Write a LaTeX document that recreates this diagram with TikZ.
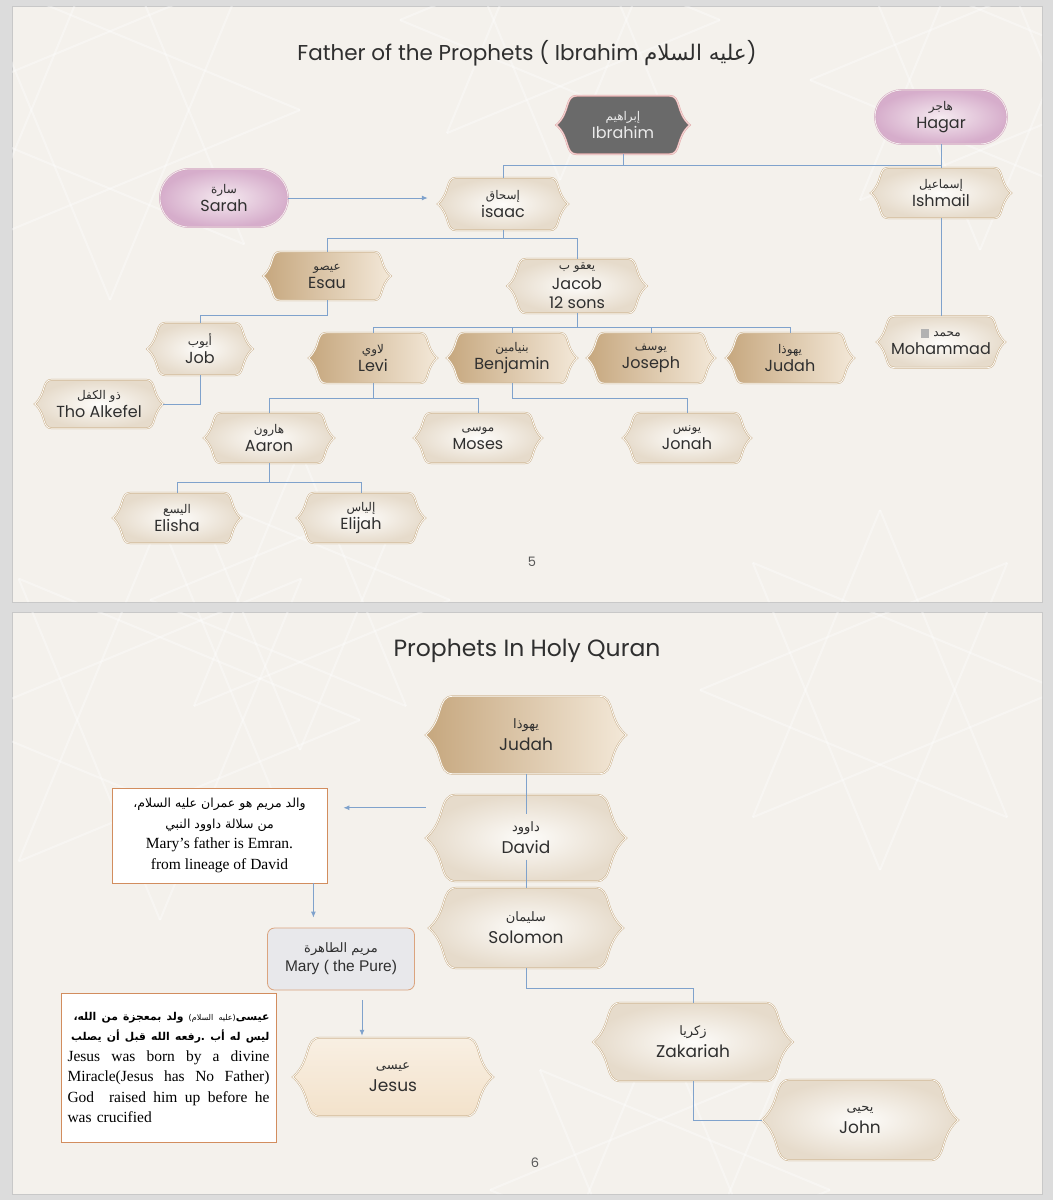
\documentclass[tikz,border=0pt]{standalone}
\usepackage{fontspec}
\usetikzlibrary{calc,arrows.meta,shapes.misc}
\setmainfont{Poppins}
\newfontfamily\arabicfont[Script=Arabic]{DejaVu Sans}
\newfontfamily\timesfont{Liberation Serif}
\newfontfamily\arialfont{Liberation Sans}
\TeXXeTstate=1

\definecolor{pagegray}{HTML}{DCDCDC}
\definecolor{framegray}{HTML}{C8C8C8}
\definecolor{slidebg}{HTML}{F4F1EC}
\definecolor{linkblue}{HTML}{7FA2CC}
\definecolor{goldline}{HTML}{CBB08A}
\definecolor{creamhi}{HTML}{FDFCFA}
\definecolor{creamlo}{HTML}{E6DBCB}
\definecolor{tanhi}{HTML}{F3E8D8}
\definecolor{tanlo}{HTML}{C6A77E}
\definecolor{pinkhi}{HTML}{F5EAF0}
\definecolor{pinklo}{HTML}{D6ADCB}
\definecolor{pinkline}{HTML}{D2A9BF}
\definecolor{slate}{HTML}{6A6A6A}
\definecolor{rose}{HTML}{E2A3A3}
\definecolor{peach}{HTML}{F3E2CB}
\definecolor{marygray}{HTML}{E8E8EB}
\definecolor{copper}{HTML}{D28D5E}
\definecolor{inktext}{HTML}{2F2F2F}

% plaque: flat top and bottom, pointed ends with curled corners
\makeatletter
\pgfdeclareshape{plaque}{%
  \inheritsavedanchors[from=rectangle]%
  \inheritanchorborder[from=rectangle]%
  \inheritanchor[from=rectangle]{center}%
  \inheritanchor[from=rectangle]{north}%
  \inheritanchor[from=rectangle]{south}%
  \inheritanchor[from=rectangle]{east}%
  \inheritanchor[from=rectangle]{west}%
  \inheritanchor[from=rectangle]{north east}%
  \inheritanchor[from=rectangle]{north west}%
  \inheritanchor[from=rectangle]{south east}%
  \inheritanchor[from=rectangle]{south west}%
  \backgroundpath{%
    \southwest \pgf@xa=\pgf@x \pgf@ya=\pgf@y
    \northeast \pgf@xb=\pgf@x \pgf@yb=\pgf@y
    \pgf@xc=\pgf@yb \advance\pgf@xc by -\pgf@ya
    \pgf@yc=.5\pgf@ya \advance\pgf@yc by .5\pgf@yb
    \edef\pqL{\the\pgf@xa}\edef\pqR{\the\pgf@xb}%
    \edef\pqB{\the\pgf@ya}\edef\pqT{\the\pgf@yb}\edef\pqM{\the\pgf@yc}%
    \pgf@xc=.35\pgf@xc \edef\pqC{\the\pgf@xc}%
    \pgf@xc=.6\pgf@xc \edef\pqD{\the\pgf@xc}%
    \pgfpathmoveto{\pgfpoint{\pqL+\pqC}{\pqT}}%
    \pgfpathlineto{\pgfpoint{\pqR-\pqC}{\pqT}}%
    \pgfpathcurveto{\pgfpoint{\pqR-.4*\pqC}{\pqT}}{\pgfpoint{\pqR-.7*\pqC}{\pqM+\pqD}}{\pgfpoint{\pqR}{\pqM}}%
    \pgfpathcurveto{\pgfpoint{\pqR-.7*\pqC}{\pqM-\pqD}}{\pgfpoint{\pqR-.4*\pqC}{\pqB}}{\pgfpoint{\pqR-\pqC}{\pqB}}%
    \pgfpathlineto{\pgfpoint{\pqL+\pqC}{\pqB}}%
    \pgfpathcurveto{\pgfpoint{\pqL+.4*\pqC}{\pqB}}{\pgfpoint{\pqL+.7*\pqC}{\pqM-\pqD}}{\pgfpoint{\pqL}{\pqM}}%
    \pgfpathcurveto{\pgfpoint{\pqL+.7*\pqC}{\pqM+\pqD}}{\pgfpoint{\pqL+.4*\pqC}{\pqT}}{\pgfpoint{\pqL+\pqC}{\pqT}}%
    \pgfpathclose
  }%
}
\makeatother

\newcommand\ar[1]{{\arabicfont\fontsize{12}{14}\selectfont\beginR #1\endR}}
\newcommand\arl[1]{{\arabicfont\fontsize{13}{15}\selectfont\beginR #1\endR}}
% no font here has the salawat sign, so a small grey mark stands for it
\newcommand\pbuh{\textcolor{gray!60}{\rule[-1pt]{8pt}{9pt}}}
\newcommand\fullline[1]{\leavevmode\hbox to 202pt{#1}}

\tikzset{
  plaque/.style={shape=plaque, draw=goldline, line width=.5pt, double=creamhi, double distance=.8pt,
    inner sep=0pt, minimum width=128, minimum height=50, align=center, text=inktext,
    font=\fontsize{16}{18}\selectfont},
  cream/.style={plaque, inner color=creamhi, outer color=creamlo},
  tan/.style={plaque, left color=tanlo, right color=tanhi},
  big/.style={minimum width=200, minimum height=80, font=\fontsize{17}{22}\selectfont},
  wife/.style={rounded rectangle, draw=pinkline, line width=.5pt, double=pinkhi, double distance=.8pt,
    inner color=pinkhi, outer color=pinklo, inner sep=0pt, minimum width=130, minimum height=56,
    align=center, text=inktext, font=\fontsize{16}{18}\selectfont},
  note/.style={rectangle, draw=copper, line width=.8pt, fill=white, inner sep=0pt, text=black,
    font=\timesfont\fontsize{15.5}{20.5}\selectfont},
  link/.style={draw=linkblue, line width=.9pt},
  bus/.style={to path={|- ([yshift=-#1]\tikztostart) -| (\tikztotarget)}},
  pointer/.style={link, -{Latex[length=6pt,width=5pt]}},
  title/.style={text=inktext, font=\fontsize{21.5}{25}\selectfont},
  pagenum/.style={text=inktext!80, font=\fontsize{13}{15}\selectfont}
}

\begin{document}
\begin{tikzpicture}[x=1pt,y=-1pt]
% paper
\fill[pagegray] (0,0) rectangle (1053,1200);
\filldraw[fill=slidebg,draw=framegray] (12,6) rectangle (1042,602);
\filldraw[fill=slidebg,draw=framegray] (12,612) rectangle (1042,1194);
\useasboundingbox (0,0) rectangle (1053,1200);
% faint star lattice in the backdrop
\begin{scope}
  \clip (12,6) rectangle (1042,602) (12,612) rectangle (1042,1194);
  \foreach \cx/\cy/\r in {110/110/190, 560/20/160, 980/80/170, 300/600/150, 160/720/200, 880/690/180, 660/1190/170}
    \foreach \a in {0,45,...,315}
      \draw[white, line width=2pt, opacity=.35] ($(\cx,\cy)+(\a:\r)$) -- ($(\cx,\cy)+(\a+135:\r)$);
\end{scope}

% ---------- slide 5 ----------
\node[title] (title1) at (527,53) {Father of the Prophets ( Ibrahim {\arabicfont\beginR عليه السلام\endR})};

\node[plaque, fill=slate, draw=rose, double=rose!40, text=white!92!black, minimum width=133, minimum height=58] (ibr) at (623,125) {\ar{إبراهيم}\\Ibrahim};
\node[wife, minimum width=132, minimum height=54] (hag) at (941,117) {\ar{هاجر}\\Hagar};
\node[wife, minimum width=128, minimum height=58] (sar) at (224,198) {\ar{سارة}\\Sarah};
\node[cream, minimum width=130, minimum height=52] (isa) at (503,204) {\ar{إسحاق}\\isaac};
\node[cream, minimum width=140] (ish) at (941,193) {\ar{إسماعيل}\\Ishmail};
\node[tan, minimum width=127, minimum height=48] (esa) at (327,276) {\ar{عيصو}\\Esau};
\node[cream, minimum width=139, minimum height=54, font=\fontsize{16}{19.5}\selectfont] (jac) at (577,286) {\ar{يعقو ب}\\Jacob\\12 sons};
\node[cream, minimum width=105, minimum height=52] (job) at (200,349) {\ar{أيوب}\\Job};
\node[cream, minimum height=48] (kif) at (99,404) {\ar{ذو الكفل}\\Tho Alkefel};
\node[tan] (lev) at (373,358) {\ar{لاوي}\\Levi};
\node[tan, minimum width=130] (ben) at (512,358) {\ar{بنيامين}\\Benjamin};
\node[tan] (jos) at (651,358) {\ar{يوسف}\\Joseph};
\node[tan] (jud) at (790,358) {\ar{يهوذا}\\Judah};
\node[cream, minimum height=51] (moh) at (941,342) {\pbuh\ \ar{محمد}\\Mohammad};
\node[cream, minimum width=130] (aar) at (269,438) {\ar{هارون}\\Aaron};
\node[cream] (mos) at (478,438) {\ar{موسى}\\Moses};
\node[cream] (jon) at (687,438) {\ar{يونس}\\Jonah};
\node[cream] (eli) at (177,518) {\ar{اليسع}\\Elisha};
\node[cream] (elj) at (361,518) {\ar{إلياس}\\Elijah};
\node[pagenum] (p5) at (532,562) {5};

\draw[link] (ibr.south) to[bus=11] (isa.north);
\draw[link] (ibr.south) to[bus=11] (ish.north);
\draw[link] (hag.south) -- (ish.north);
\draw[pointer, shorten >=10pt] (sar.east) -- (sar.east -| isa.west);
\draw[link] (isa.south) to[bus=8] (esa.north);
\draw[link] (isa.south) to[bus=8] (jac.north);
\draw[link] (esa.south) to[bus=15] (job.north);
\draw[link] (job.south) |- (kif.east);
\foreach \son in {lev,ben,jos,jud}
  \draw[link] (jac.south) to[bus=14] (\son.north);
\draw[link] (ish.south) -- (moh.north);
\draw[link] (lev.south) to[bus=15] (aar.north);
\draw[link] (lev.south) to[bus=15] (mos.north);
\draw[link] (ben.south) to[bus=15] (jon.north);
\draw[link] (aar.south) to[bus=19] (eli.north);
\draw[link] (aar.south) to[bus=19] (elj.north);

% ---------- slide 6 ----------
\node[title, font=\fontsize{23.5}{28}\selectfont] (title2) at (527,651) {Prophets In Holy Quran};

\node[tan, big, minimum height=77] (jud2) at (526,735) {\arl{يهوذا}\\Judah};
\node[cream, big, minimum height=86] (dav) at (526,838) {\arl{داوود}\\David};
\node[cream, big, minimum width=194] (sol) at (526,928) {\arl{سليمان}\\Solomon};
\node[cream, big, minimum width=199, minimum height=78] (zak) at (693,1042) {\arl{زكريا}\\Zakariah};
\node[cream, big, minimum width=196] (joh) at (860,1120) {\arl{يحيى}\\John};
\node[plaque, big, minimum height=78, top color=peach!55!white, bottom color=peach] (jes) at (393,1077) {\arl{عيسى}\\Jesus};
\node[rectangle, rounded corners=7pt, draw=copper!80, line width=.8pt, fill=marygray, minimum width=147, minimum height=62,
  align=center, text=inktext, font=\arialfont\fontsize{15.5}{19}\selectfont] (mar) at (341,959) {\arl{مريم الطاهرة}\\Mary ( the Pure)};

\node[note, minimum width=215, minimum height=95, align=center] (note1) at (219.5,835.5)
  {{\arabicfont\fontsize{12.5}{20.5}\selectfont\beginR والد مريم هو عمران عليه السلام،\endR}\\
   {\arabicfont\fontsize{12.5}{20.5}\selectfont\beginR من سلالة داوود النبي\endR}\\
   Mary’s father is Emran.\\from lineage of David};
\node[note, minimum width=215, minimum height=149, text width=202, align=left] (note2) at (168.5,1067.5)
  {\makebox[202pt][r]{\arabicfont\bfseries\fontsize{10.8}{20}\selectfont\beginR عيسى{\mdseries\fontsize{8}{10}\selectfont(عليه السلام)} ولد بمعجزة من الله،\endR}\\
   \makebox[202pt][r]{\arabicfont\bfseries\fontsize{10.8}{20}\selectfont\beginR ليس له أب .رفعه الله قبل أن يصلب\endR}\\
   \fullline{Jesus\hfill was\hfill born\hfill by\hfill a\hfill divine}\\
   \fullline{Miracle(Jesus\hfill has\hfill No\hfill Father)}\\
   \fullline{God\hfill\hfill raised\hfill him\hfill up\hfill before\hfill he}\\
   was crucified};
\node[pagenum] (p6) at (535,1163) {6};

\coordinate (dvl) at ([yshift=-13pt]dav.north west);
\coordinate (n1b) at ([xshift=-14pt]note1.south east);
\coordinate (mrb) at ([xshift=21pt,yshift=-10pt]mar.south);

\draw[link] (jud2.south) -- ($(dav.north)!.45!(dav.center)$);
\draw[link] ($(dav.center)!.5!(dav.south)$) -- (sol.north);
\draw[link] (sol.south) to[bus=20] (zak.north);
\draw[link] (zak.south) |- (joh.west);
\draw[pointer, shorten >=16pt] (dvl) -- (dvl -| note1.east);
\draw[pointer, shorten >=10pt] (n1b) -- (n1b |- mar.north);
\draw[pointer, shorten >=2pt] (mrb) -- (mrb |- jes.north);
\end{tikzpicture}
\end{document}
